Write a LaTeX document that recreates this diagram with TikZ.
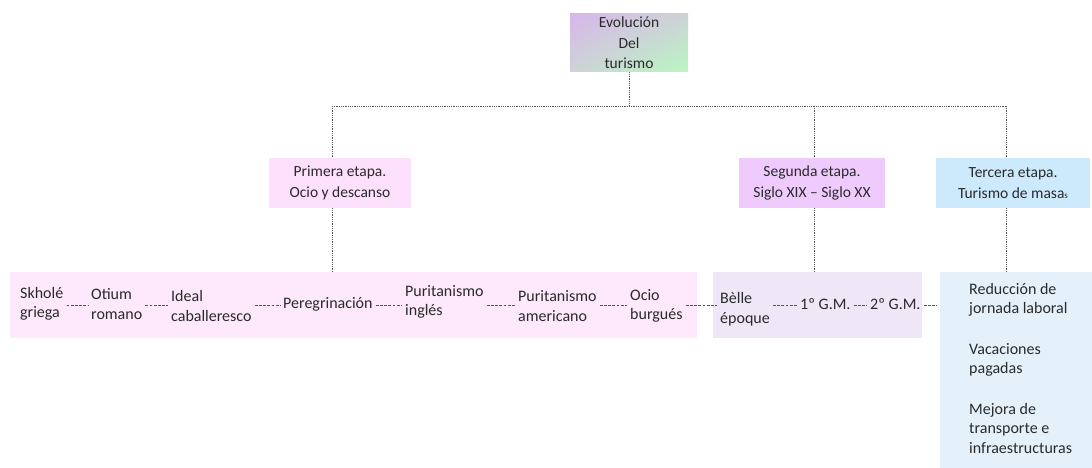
\documentclass[tikz,border=0pt]{standalone}
\usepackage{fontspec}
\usetikzlibrary{shadings}
\setmainfont{Carlito}
\definecolor{txt}{HTML}{2A2A2A}
\definecolor{lnc}{HTML}{555555}
\definecolor{evoA}{HTML}{D8B6EC}
\definecolor{evoB}{HTML}{B9F7C2}
\definecolor{evoM}{HTML}{CDD3D6}
\definecolor{pinkbox}{HTML}{FDE0FC}
\definecolor{purpbox}{HTML}{EFCBFD}
\definecolor{bluebox}{HTML}{CDE9FC}
\definecolor{pinkband}{HTML}{FDE8FC}
\definecolor{purpband}{HTML}{EFE6F8}
\definecolor{blueband}{HTML}{E4F1FB}
\tikzset{
  box/.style={inner sep=0pt, text=txt, align=center, font=\fontsize{15.5}{20.5}\selectfont},
  band/.style={inner sep=0pt},
  item/.style={anchor=west, inner sep=0pt, text=txt, align=left, font=\fontsize{16}{19.5}\selectfont},
  tree/.style={draw=lnc, line width=0.8pt, dash pattern=on 1pt off 0.8pt},
  link/.style={draw=lnc, line width=0.8pt, dash pattern=on 2.8pt off 1.4pt, shorten <=3pt, shorten >=3pt},
}
\begin{document}
\begin{tikzpicture}[x=1pt,y=-1pt]
\useasboundingbox (0,0) rectangle (1092,468);
% top box with gradient
\shade[upper left=evoA, lower right=evoB, upper right=evoM, lower left=evoM] (570,14) rectangle (688,72);
\node[box, minimum width=118pt, minimum height=58pt] (top) at (629,43) {Evolución\\Del\\turismo};
% stage boxes
\node[box, fill=pinkbox, minimum width=142pt, minimum height=50pt] (p1) at (340,183) {Primera etapa.\\Ocio y descanso};
\node[box, fill=purpbox, minimum width=146pt, minimum height=50pt] (p2) at (812,183) {Segunda etapa.\\Siglo XIX -- Siglo XX};
\node[box, fill=bluebox, minimum width=154pt, minimum height=50pt] (p3) at (1013,183) {Tercera etapa.\\Turismo de masa{\fontsize{9}{9}\selectfont s}};
% bands
\node[band, fill=pinkband, minimum width=687pt, minimum height=66pt] (b1) at (353.5,305) {};
\node[band, fill=purpband, minimum width=209pt, minimum height=66pt] (b2) at (817.5,305) {};
\node[band, fill=blueband, minimum width=152pt, minimum height=196pt] (b3) at (1016,370) {};
% tree connectors
\coordinate (hub) at (629,106);
\coordinate (c1) at (332,106);
\coordinate (c2) at (814,106);
\coordinate (c3) at (1006,106);
\draw[tree] (top.south) -- (hub);
\draw[tree] (c1) -- (c3);
\draw[tree] (c1) -- (c1 |- p1.north);
\draw[tree] (c2) -- (c2 |- p2.north);
\draw[tree] (c3) -- (c3 |- p3.north);
\draw[tree] (c1 |- p1.south) -- (c1 |- b1.north);
\draw[tree] (c2 |- p2.south) -- (c2 |- b2.north);
\draw[tree] (c3 |- p3.south) -- (c3 |- b3.north);
% items
\coordinate (row) at (0,305);
\node[item] (i1) at (20,304) {Skholé\\griega};
\node[item] (i2) at (91,304) {Otium\\romano};
\node[item] (i3) at (171,306) {Ideal\\caballeresco};
\node[item] (i4) at (283,304) {Peregrinación};
\node[item] (i5) at (405,302) {Puritanismo\\inglés};
\node[item] (i6) at (518,306) {Puritanismo\\americano};
\node[item] (i7) at (630,306) {Ocio\\burgués};
\node[item] (i8) at (720,309) {Bèlle\\époque};
\node[item] (i9) at (800,304) {1º G.M.};
\node[item] (i10) at (870,304) {2º G.M.};
\foreach \a/\b in {i1/i2,i2/i3,i3/i4,i4/i5,i5/i6,i6/i7,i7/i8,i8/i9,i9/i10,i10/b3}
  \draw[link] (\a.east |- row) -- (\b.west |- row);
\node[item, anchor=north west] (t1) at (969,283) {Reducción de\\jornada laboral};
\node[item, anchor=north west] (t2) at (969,343) {Vacaciones\\pagadas};
\node[item, anchor=north west] (t3) at (969,403) {Mejora de\\transporte e\\infraestructuras};
\end{tikzpicture}
\end{document}
